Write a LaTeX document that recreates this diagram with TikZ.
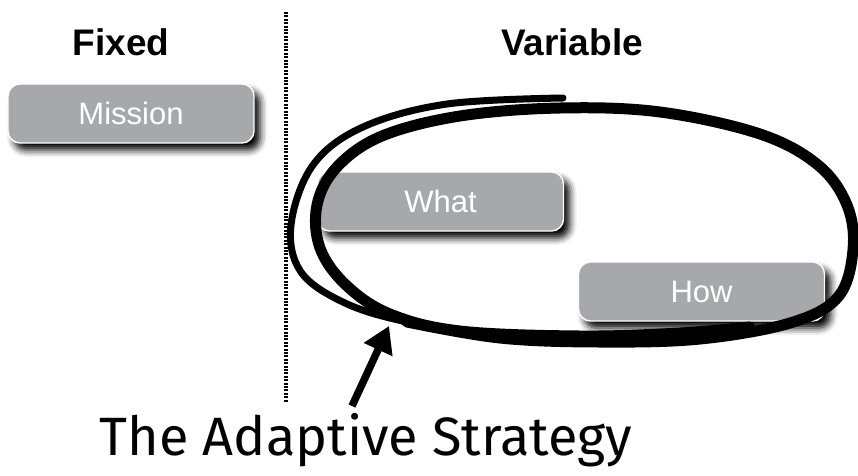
\documentclass[tikz,border=0pt]{standalone}
\usepackage{fontspec}
\setmainfont{Liberation Sans}
\newfontfamily\handfont{Fira Sans}
\usetikzlibrary{arrows.meta,shadows.blur}

\definecolor{boxgray}{RGB}{167,168,171}

\begin{document}
\begin{tikzpicture}[
				x=1pt, y=-1pt,
				stagebox/.style={rounded corners=12pt, fill=boxgray, draw=white,
					line width=1.4pt, minimum width=246pt, minimum height=59pt,
					text=white, font=\fontsize{31}{31}\selectfont,
					blur shadow={shadow xshift=6pt, shadow yshift=-7pt,
						shadow blur radius=7pt, shadow opacity=100}},
				heading/.style={font=\bfseries\fontsize{37}{37}\selectfont},
				loopline/.style={line width=#1, line cap=round, line join=round}
			]
			\useasboundingbox (0,0) rectangle (858,475);

			% column split
			\draw[line width=3.4pt, dash pattern=on 2pt off 1.4pt] (286,12) -- (286,402);

			\node[heading] (fixed) at (121,42) {Fixed};
			\node[heading] (variable) at (572,42) {Variable};

			\foreach \name/\x/\y/\label in {
				mission/131/113.5/Mission,
				what/440.5/201.5/What,
				how/701.5/291.5/How}
				\node[stagebox] (\name) at (\x,\y) {\label};

			% loop round What and How, drawn twice
			\draw[loopline=7pt] plot[smooth, tension=0.6] coordinates {
				(563,98) (447,104) (363,127) (313,165) (291,225)
				(301,272) (345,303) (407,322) (500,338)};
			\draw[loopline=11pt] plot[smooth, tension=0.6] coordinates {
				(407,322) (500,338) (600,342) (700,339) (790,323)
				(838,297) (853,250) (847,205) (818,165) (760,134)
				(660,112) (560,108) (460,116) (382,136) (337,167)
				(317,205) (320,248) (346,285) (390,314) (460,331)
				(580,336) (680,333) (750,327)};

			\node[font=\handfont\fontsize{54}{54}\selectfont, anchor=base]
				(strategy) at (366,455) {The Adaptive Strategy};

			\coordinate (tail) at (352,406);
			\coordinate (tip) at (389,326);
			\draw[line width=7.5pt, -{Triangle[length=26pt, width=30pt]}] (tail) -- (tip);

		\end{tikzpicture}
\end{document}
